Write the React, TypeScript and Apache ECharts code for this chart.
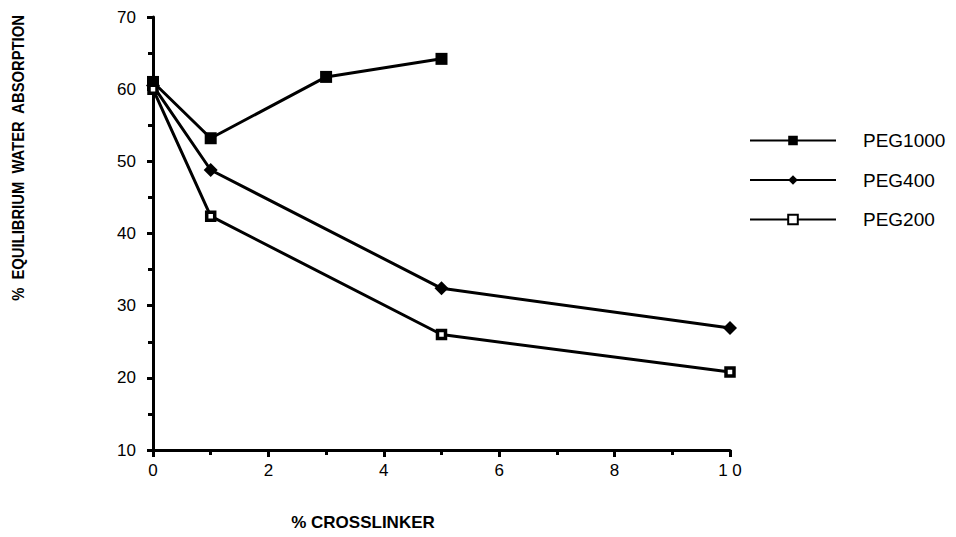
import React, { useEffect, useRef } from "react";
import * as echarts from "echarts";

const xPEG1000 = [0, 1, 3, 5];
const yPEG1000 = [61, 53.2, 61.7, 64.2];
const xPEG400 = [0, 1, 5, 10];
const yPEG400 = [60.5, 48.8, 32.4, 26.9];
const xPEG200 = [0, 1, 5, 10];
const yPEG200 = [60, 42.4, 26.0, 20.8];
const seriesNames = ["PEG1000", "PEG400", "PEG200"];

const pair = (xs: number[], ys: number[]) => xs.map((x, i) => [x, ys[i]]);

export default function App() {
  const ref = useRef<HTMLDivElement>(null);
  useEffect(() => {
    if (!ref.current) return;
    const chart = echarts.init(ref.current, null, { renderer: "svg" });
    const font = "Liberation Sans, Arial, Helvetica, sans-serif";
    const lineStyle = { color: "#000", width: 3 };
    chart.setOption({
      animation: false,
      backgroundColor: "#fff",
      textStyle: { fontFamily: font, color: "#000" },
      grid: { left: 153, top: 17, right: 226, bottom: 87 },
      xAxis: {
        type: "value",
        min: 0,
        max: 10,
        interval: 2,
        axisLine: { lineStyle: { color: "#000", width: 3 } },
        axisTick: { show: true, length: 7, lineStyle: { color: "#000", width: 3 } },
        minorTick: { show: true, splitNumber: 2, length: 5, lineStyle: { color: "#000", width: 3 } },
        splitLine: { show: false },
        axisLabel: {
          color: "#000",
          fontSize: 17,
          margin: 12,
          fontFamily: font,
          formatter: (v: number) => (v === 10 ? "1 0" : String(v)),
        },
      },
      yAxis: {
        type: "value",
        min: 10,
        max: 70,
        interval: 10,
        axisLine: { show: true, lineStyle: { color: "#000", width: 3 } },
        axisTick: { show: true, length: 6, lineStyle: { color: "#000", width: 3 } },
        minorTick: { show: true, splitNumber: 2, length: 5, lineStyle: { color: "#000", width: 3 } },
        splitLine: { show: false },
        axisLabel: { color: "#000", fontSize: 17, margin: 17, fontFamily: font },
      },
      legend: {
        orient: "vertical",
        left: 744,
        top: 126,
        itemWidth: 86,
        itemHeight: 12,
        itemGap: 20.5,
        textStyle: { fontSize: 19, color: "#000", fontFamily: font, padding: [0, 0, 0, 22] },
        data: seriesNames,
      },
      graphic: [
        {
          type: "text",
          x: 18,
          y: 158,
          rotation: Math.PI / 2,
          scaleX: 0.87,
          style: {
            text: "%  EQUILIBRIUM  WATER  ABSORPTION",
            font: "bold 17px " + font,
            fill: "#000",
            align: "center",
            verticalAlign: "middle",
          },
        },
        {
          type: "text",
          x: 363,
          y: 522,
          style: {
            text: "% CROSSLINKER",
            font: "bold 17px " + font,
            fill: "#000",
            align: "center",
            verticalAlign: "middle",
          },
        },
      ],
      series: [
        {
          name: "PEG1000",
          type: "line",
          data: pair(xPEG1000, yPEG1000),
          symbol: "rect",
          symbolSize: 12,
          itemStyle: { color: "#000" },
          lineStyle,
        },
        {
          name: "PEG400",
          type: "line",
          data: pair(xPEG400, yPEG400),
          symbol: "diamond",
          symbolSize: 14,
          itemStyle: { color: "#000" },
          lineStyle,
        },
        {
          name: "PEG200",
          type: "line",
          data: pair(xPEG200, yPEG200),
          symbol: "rect",
          symbolSize: 8,
          itemStyle: { color: "#fff", borderColor: "#000", borderWidth: 3.5 },
          lineStyle,
        },
      ],
    });
    return () => chart.dispose();
  }, []);
  return (
    <div
      ref={ref}
      style={{ position: "fixed", left: 0, top: 0, width: 956, height: 537 }}
    />
  );
}
